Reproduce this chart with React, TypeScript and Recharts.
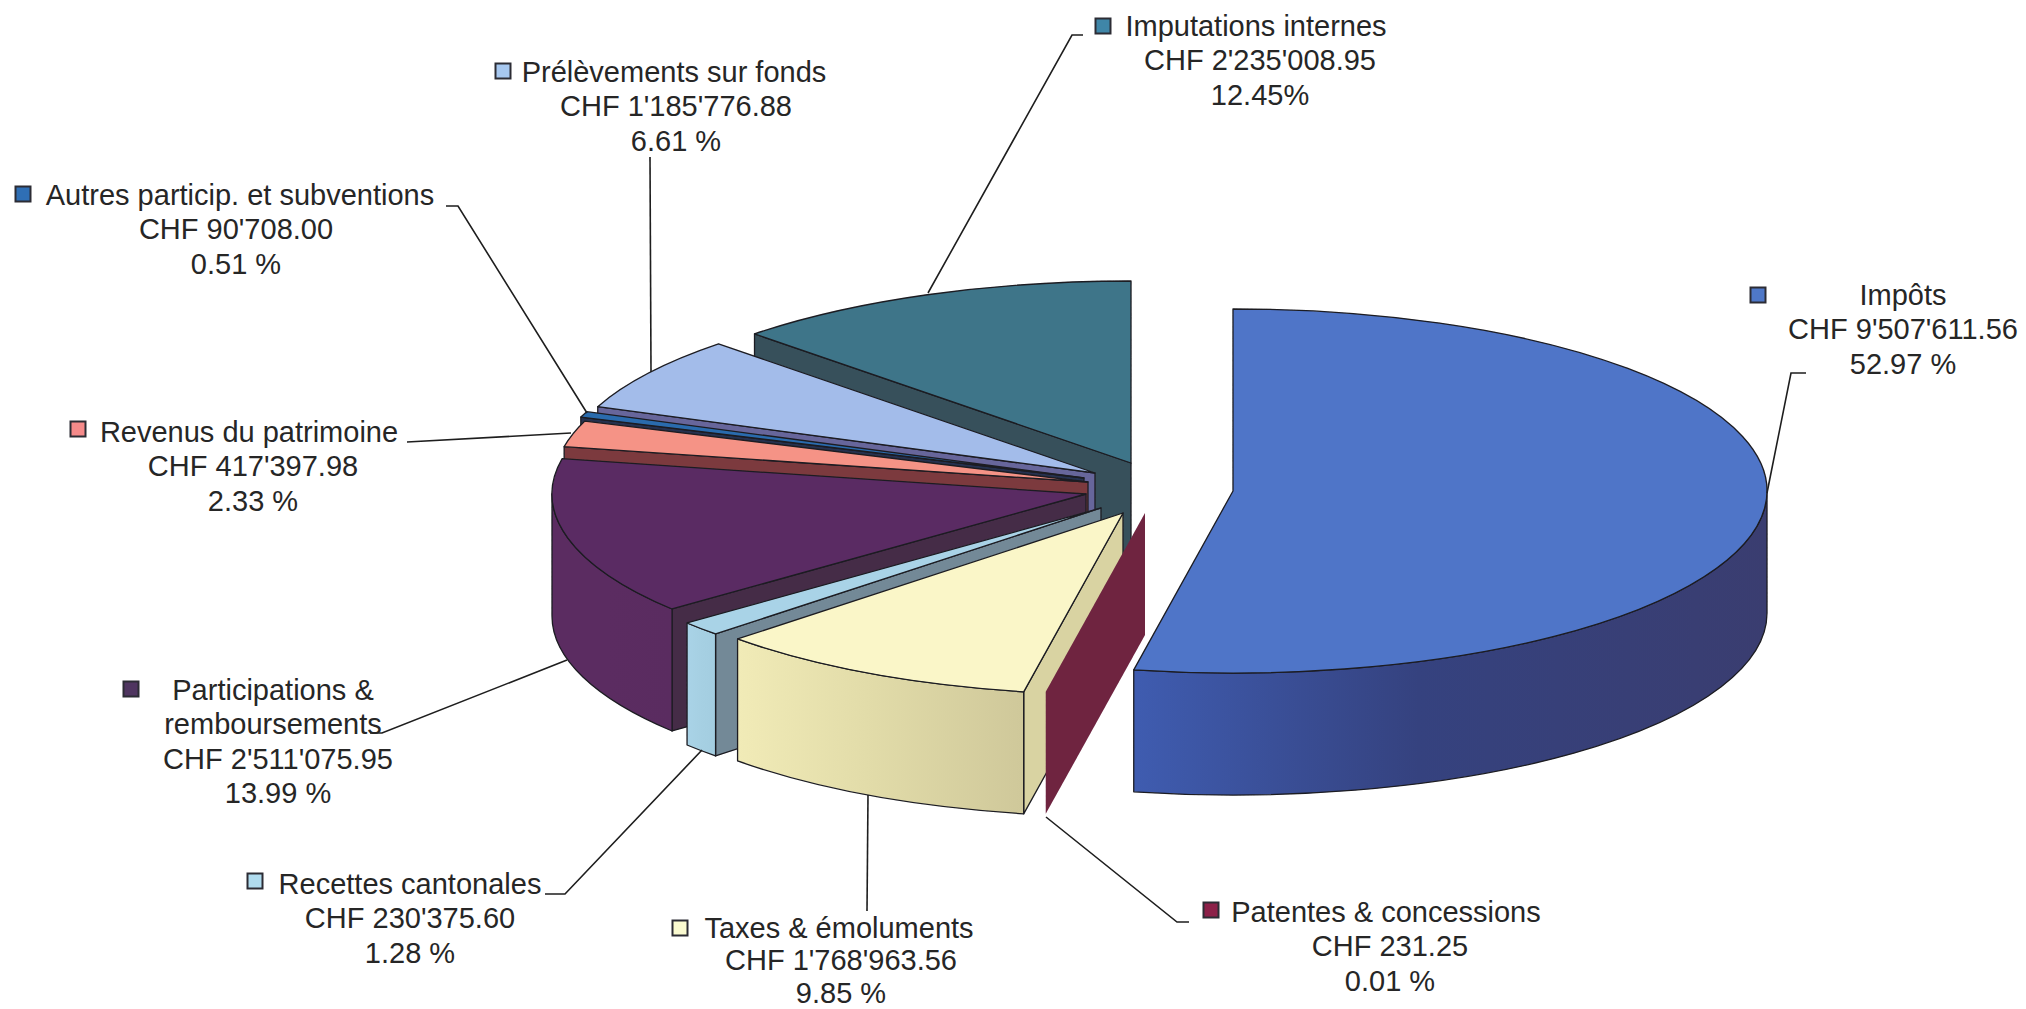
import React from "react";
import { PieChart, Pie } from "recharts";

// Data, listed anticlockwise from 12 o'clock so that the back slices paint first.
const NAMES = ["Imputations internes", "Prélèvements sur fonds", "Autres particip. et subventions", "Revenus du patrimoine", "Participations & remboursements", "Recettes cantonales", "Taxes & émoluments", "Patentes & concessions", "Impôts"];
const AMOUNTS = [2235008.95, 1185776.88, 90708.0, 417397.98, 2511075.95, 230375.6, 1768963.56, 231.25, 9507611.56];
const AMOUNT_LABELS = ["CHF 2'235'008.95", "CHF 1'185'776.88", "CHF 90'708.00", "CHF 417'397.98", "CHF 2'511'075.95", "CHF 230'375.60", "CHF 1'768'963.56", "CHF 231.25", "CHF 9'507'611.56"];
const PERCENT_LABELS = ["12.45%", "6.61 %", "0.51 %", "2.33 %", "13.99 %", "1.28 %", "9.85 %", "0.01 %", "52.97 %"];
const TITLE_LINES = [["Imputations internes"], ["Prélèvements sur fonds"], ["Autres particip. et subventions"], ["Revenus du patrimoine"], ["Participations &", "remboursements"], ["Recettes cantonales"], ["Taxes & émoluments"], ["Patentes & concessions"], ["Impôts"]];

// Styles
const TOP = ["#3e7589", "#a3bcea", "#2a6bad", "#f59386", "#5a2b63", "#a9d3e7", "#faf6c8", "#6f2440", "#4f75c8"];
const RADIAL = ["#37505b", "#67669b", "#25314f", "#7c3a3e", "#452c47", "#738997", "#d9d3a2", "#6f2440", "#34407f"];
const WALL_STOPS = [
  ["#3e7589", "#3e7589", "#3e7589"], ["#67669b", "#67669b", "#67669b"], ["#25314f", "#25314f", "#25314f"], ["#7c3a3e", "#7c3a3e", "#7c3a3e"],
  ["#5b2c61", "#5b2c61", "#5a2c60"], ["#a9d3e7", "#a6d0e3", "#a3cde0"], ["#f1ebb7", "#e2dca9", "#cfc89a"], ["#6f2440", "#6f2440", "#6f2440"], ["#3f5cb0", "#35427f", "#3a3d70"],
];
const KEY_FILL = ["#3f86a8", "#a7c8f0", "#2f6fb5", "#f58a8a", "#4f3560", "#b0dcef", "#fafad0", "#8c2048", "#4f78c8"];

// Layout
const CX = 1131;
const CY = 463;
const RX = 534;
const TILT = 182 / 534;
const DEPTH = 122;
const EXPLODE = [[0, 0], [-36, 10], [-47, 15], [-43, 19], [-45, 31], [-30, 45], [-8, 50], [14, 50], [102, 28]];
const FONT = 29;
const LINE = [34.4, 34.4, 34.4, 34.4, 34.4, 34.4, 32.5, 34.4, 34.4];
const TITLE_X = [1256, 674, 240, 249, 273, 410, 839, 1386, 1903];
const BODY_X = [1260, 676, 236, 253, 278, 410, 841, 1390, 1903];
const FIRST_BASELINE = [36, 82, 205, 442, 700, 894, 937.5, 922, 305];
const KEY_POS = [[1103, 26], [503, 71], [23, 194], [78, 429], [131, 689], [255, 881], [680, 928], [1211, 910], [1758, 295]];
const LEADERS = [
  [[928, 293], [1072, 35], [1083, 35]],
  [[651, 372], [650, 157]],
  [[587, 413], [458, 206], [446, 206]],
  [[571, 433], [407, 442]],
  [[567, 660], [382, 733], [370, 733]],
  [[702, 750], [565, 894], [545, 894]],
  [[868, 795], [867, 911]],
  [[1046, 817], [1177, 922], [1189, 922]],
  [[1767, 493], [1791, 373], [1806, 373]],
];

const TABLE = NAMES.map((name, i) => ({ name, value: AMOUNTS[i], idx: i }));

const pt = (x: number, y: number, th: number) => {
  const r = (th * Math.PI) / 180;
  return [x + RX * Math.sin(r), y - RX * TILT * Math.cos(r)];
};
const ARC = `A ${RX} ${RX * TILT} 0`;

function Slice3D(props: any) {
  const { cx, cy, startAngle, endAngle, payload } = props;
  const i = payload.idx;
  const x = cx + EXPLODE[i][0];
  const y = cy + EXPLODE[i][1];
  const lo = Math.min(startAngle, endAngle);
  const hi = Math.max(startAngle, endAngle);
  let a = 90 - hi;
  while (a < 0) a += 360;
  const b = a + (hi - lo);
  const stroke = "#1c1c22";
  const sw = 1.3;
  const p0 = pt(x, y, a);
  const p1 = pt(x, y, b);
  const large = b - a > 180 ? 1 : 0;
  const topPath = `M ${x} ${y} L ${p0[0]} ${p0[1]} ${ARC} ${large} 1 ${p1[0]} ${p1[1]} Z`;

  const showRadial = Math.sin((a * Math.PI) / 180) < -1e-6;
  const radial = `M ${x} ${y} L ${p0[0]} ${p0[1]} L ${p0[0]} ${p0[1] + DEPTH} L ${x} ${y + DEPTH} Z`;

  const t0 = Math.max(a, 90);
  const t1 = Math.min(b, 270);
  let outer: string | null = null;
  if (t1 > t0) {
    const q0 = pt(x, y, t0);
    const q1 = pt(x, y, t1);
    const big = t1 - t0 > 180 ? 1 : 0;
    outer = `M ${q0[0]} ${q0[1]} ${ARC} ${big} 1 ${q1[0]} ${q1[1]} L ${q1[0]} ${q1[1] + DEPTH} ${ARC} ${big} 0 ${q0[0]} ${q0[1] + DEPTH} Z`;
  }
  const gid = `wall-${i}`;
  const fid = `grain-${i}`;
  const isSliver = b - a < 0.1;
  return (
    <g filter={`url(#${fid})`}>
      <defs>
        <linearGradient id={gid} x1="0" y1="0" x2="1" y2="0">
          <stop offset="0" stopColor={WALL_STOPS[i][0]} />
          <stop offset="0.45" stopColor={WALL_STOPS[i][1]} />
          <stop offset="1" stopColor={WALL_STOPS[i][2]} />
        </linearGradient>
        <filter id={fid} x="-5%" y="-5%" width="110%" height="110%" colorInterpolationFilters="sRGB">
          <feTurbulence type="fractalNoise" baseFrequency="0.45" numOctaves={2} seed={i + 3} result="n" />
          <feColorMatrix
            in="n"
            type="matrix"
            values="0 0 0 0 0.5  0 0 0 0 0.5  0 0 0 0 0.5  0.9 0 0 0 -0.35"
            result="speck"
          />
          <feComposite in="speck" in2="SourceAlpha" operator="in" result="clipped" />
          <feBlend in="clipped" in2="SourceGraphic" mode="soft-light" />
        </filter>
      </defs>
      {showRadial && <path d={radial} fill={RADIAL[i]} stroke={isSliver ? "none" : stroke} strokeWidth={sw} strokeLinejoin="round" />}
      {outer && !isSliver && <path d={outer} fill={`url(#${gid})`} stroke={stroke} strokeWidth={sw} strokeLinejoin="round" />}
      {!isSliver && <path d={topPath} fill={TOP[i]} stroke={stroke} strokeWidth={sw} strokeLinejoin="round" />}
    </g>
  );
}

function Callout(props: any) {
  const i = props.payload?.idx ?? props.index;
  const lines = [...TITLE_LINES[i], AMOUNT_LABELS[i], PERCENT_LABELS[i]];
  const titleCount = TITLE_LINES[i].length;
  const [kx, ky] = KEY_POS[i];
  return (
    <g>
      <polyline points={LEADERS[i].map((p) => p.join(",")).join(" ")} fill="none" stroke="#1e1e1e" strokeWidth={1.6} />
      <rect x={kx - 7.5} y={ky - 7.5} width={15} height={15} fill={KEY_FILL[i]} stroke="#2c2c34" strokeWidth={2} />
      {lines.map((t, j) => (
        <text
          key={j}
          x={j < titleCount ? TITLE_X[i] : BODY_X[i]}
          y={FIRST_BASELINE[i] + j * LINE[i]}
          textAnchor="middle"
          fontFamily="'Liberation Sans', Arial, sans-serif"
          fontSize={FONT}
          fill="#262626"
        >
          {t}
        </text>
      ))}
    </g>
  );
}

export default function App() {
  return (
    <div style={{ position: "fixed", left: 0, top: 0, width: 2026, height: 1009, background: "#fff" }}>
      <PieChart width={2026} height={1009} margin={{ top: 0, right: 0, bottom: 0, left: 0 }}>
        <Pie
          data={TABLE}
          dataKey="value"
          nameKey="name"
          cx={CX}
          cy={CY}
          innerRadius={0}
          outerRadius={RX}
          startAngle={90}
          endAngle={450}
          stroke="none"
          isAnimationActive={false}
          shape={Slice3D}
          inactiveShape={Slice3D}
          activeShape={Slice3D}
          label={Callout}
          labelLine={false}
        />
      </PieChart>
    </div>
  );
}
